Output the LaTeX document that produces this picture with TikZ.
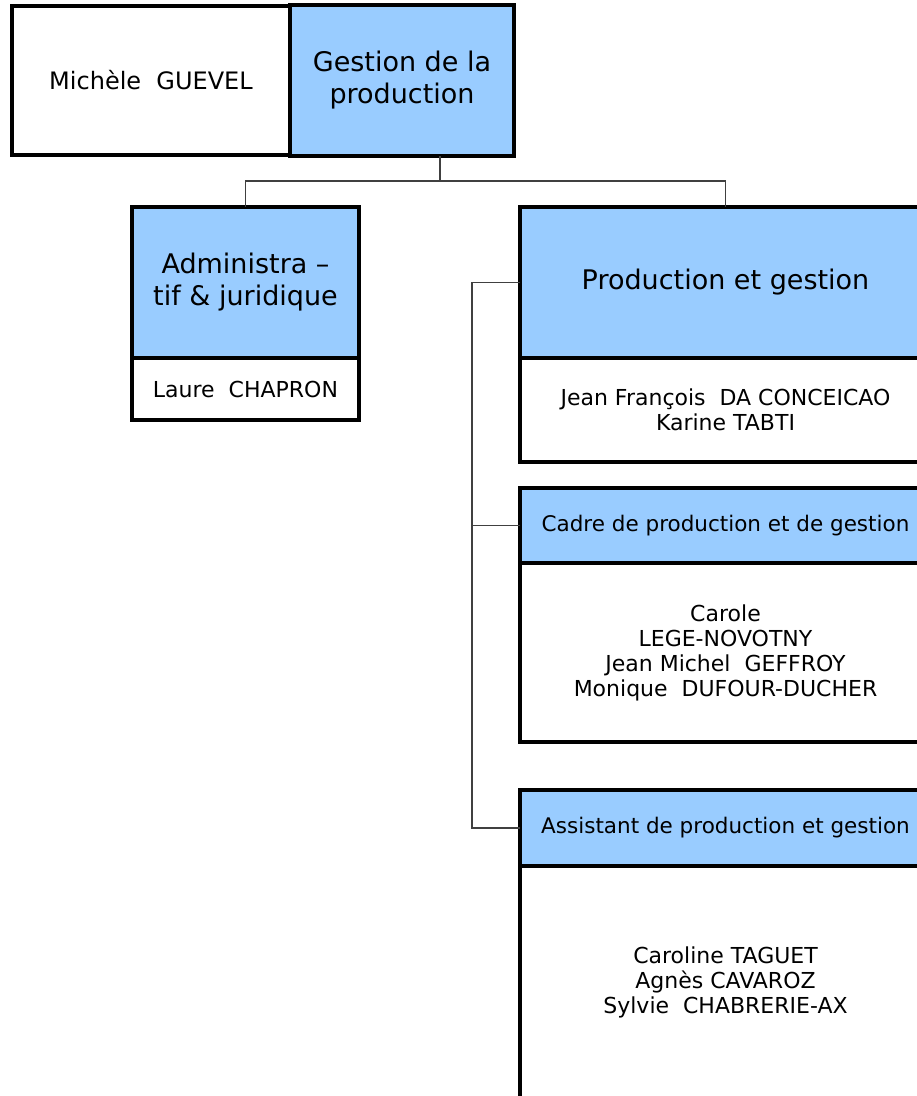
\documentclass[tikz,border=0pt]{standalone}
\usepackage{fontspec}
\setmainfont{DejaVu Sans}
\usetikzlibrary{positioning}
\definecolor{boxblue}{HTML}{99CCFF}
\definecolor{linegray}{HTML}{404040}

\begin{document}
\begin{tikzpicture}[
  x=1pt, y=-1pt,
  line width=4.5pt,
  headbox/.style={rectangle, draw=black, fill=boxblue, outer sep=0pt, inner sep=0pt, align=center, font=\fontsize{27}{32}\selectfont},
  namebox/.style={rectangle, draw=black, fill=white, outer sep=0pt, inner sep=0pt, align=center, font=\fontsize{22}{25}\selectfont},
  link/.style={draw=linegray, line width=1.2pt}
]
  \useasboundingbox (0,0) rectangle (917,1096);
  \clip (0,0) rectangle (917,1096);

  % top row
  \node[namebox, minimum width=278pt, minimum height=149pt, font=\fontsize{24}{28}\selectfont] (guevel) at (151,80.5) {Michèle~ GUEVEL};
  \node[headbox, minimum width=224pt, minimum height=151pt, right=0pt of guevel] (gestion) {Gestion de la\\production};

  % left branch
  \node[headbox, minimum width=227pt, minimum height=151pt] (admin) at (245.5,282.5) {Administra –\\tif \& juridique};
  \node[namebox, minimum width=227pt, minimum height=62pt, below=0pt of admin] (laure) {Laure~ CHAPRON};

  % right branch
  \node[headbox, minimum width=411pt, minimum height=151pt] (prod) at (725.5,282.5) {Production et gestion};
  \node[namebox, minimum width=411pt, minimum height=104pt, below=0pt of prod] (jf) {Jean François~ DA CONCEICAO\\Karine TABTI};
  \node[headbox, minimum width=411pt, minimum height=75pt, font=\fontsize{21.5}{25}\selectfont] (cadre) at (725.5,525.5) {Cadre de production et de gestion};
  \node[namebox, minimum width=411pt, minimum height=179pt, below=0pt of cadre] (carole) {Carole\\LEGE-NOVOTNY\\Jean Michel~ GEFFROY\\Monique~ DUFOUR-DUCHER};
  \node[headbox, minimum width=411pt, minimum height=76pt, font=\fontsize{21.5}{25}\selectfont] (assist) at (725.5,828) {Assistant de production et gestion};
  \node[namebox, minimum width=411pt, minimum height=232pt, below=0pt of assist] (sylvie) {Caroline TAGUET\\Agnès CAVAROZ\\Sylvie~ CHABRERIE-AX};

  % connectors
  \draw[link] ([xshift=38pt]gestion.south) -- ++(0,25) coordinate (bus);
  \draw[link] (admin.north) |- (bus) -| (prod.north);
  \draw[link] (prod.west) -- ++(-48,0) |- (assist.west);
  \draw[link] (cadre.west) -- ++(-48,0);
\end{tikzpicture}
\end{document}
